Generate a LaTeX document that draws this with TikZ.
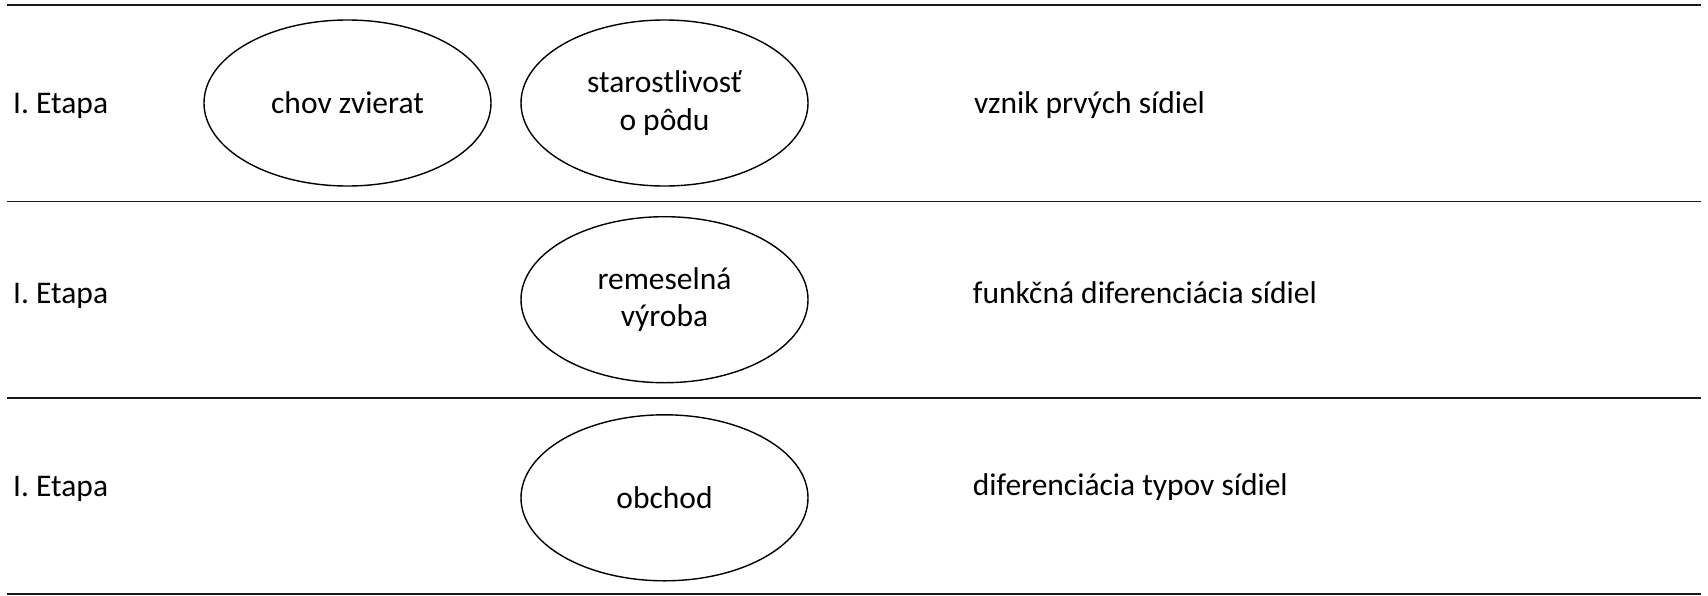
\documentclass[tikz,border=0pt]{standalone}
\usepackage{fontspec}
\setmainfont{Carlito}
\usetikzlibrary{shapes.geometric}
\begin{document}
\begin{tikzpicture}[x=1pt,y=-1pt,
  rule/.style={line width=1.6pt,draw=black!90},
  oval/.style={ellipse,draw=black,line width=1.4pt,minimum width=287pt,minimum height=166pt,inner sep=0pt,align=center,font=\fontsize{31.5}{37.5}\selectfont},
  lbl/.style={anchor=base west,inner sep=0pt,font=\fontsize{31.5}{37.5}\selectfont}]
\useasboundingbox (0,0) rectangle (1708,595);
\coordinate (l1a) at (7.3,5);   \coordinate (l1b) at (1700.7,5);
\coordinate (l2a) at (7.3,201.5); \coordinate (l2b) at (1700.7,201.5);
\coordinate (l3a) at (7.3,398); \coordinate (l3b) at (1700.7,398);
\coordinate (l4a) at (7.3,594); \coordinate (l4b) at (1700.7,594);
\draw[rule] (l1a) -- (l1b);
\draw[rule] (l2a) -- (l2b);
\draw[rule] (l3a) -- (l3b);
\draw[rule] (l4a) -- (l4b);
\node[lbl] (e1) at (13,113) {I. Etapa};
\node[lbl] (e2) at (13,303) {I. Etapa};
\node[lbl] (e3) at (13,496) {I. Etapa};
\node[oval] (chov) at (347.5,103) {chov zvierat};
\node[oval] (star) at (664.5,103) {starostlivosť\\o pôdu};
\node[oval] (rem) at (664.5,299.7) {remeselná\\výroba};
\node[oval] (obch) at (664.5,497.8) {obchod};
\node[lbl] (r1) at (974,113) {vznik prvých sídiel};
\node[lbl] (r2) at (972.7,303) {funkčná diferenciácia sídiel};
\node[lbl] (r3) at (972.7,495.7) {diferenciácia typov sídiel};
\end{tikzpicture}
\end{document}
